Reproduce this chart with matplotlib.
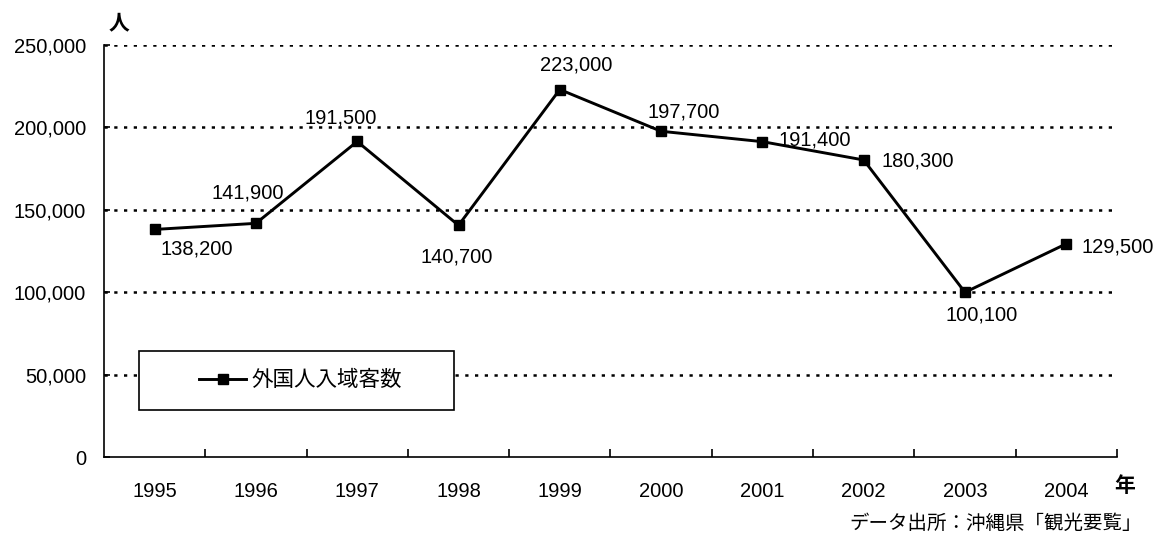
import matplotlib
matplotlib.use("Agg")
from matplotlib import pyplot as plt
from matplotlib.patches import Rectangle
from matplotlib.ticker import FuncFormatter, FixedLocator

plt.rcParams['font.family'] = ['Liberation Sans', 'Noto Sans CJK JP', 'DejaVu Sans']

# データ
years = ['1995', '1996', '1997', '1998', '1999', '2000', '2001', '2002', '2003', '2004']
visitors = [138200, 141900, 191500, 140700, 223000, 197700, 191400, 180300, 100100, 129500]
series_name = '外国人入域客数'
source_text = 'データ出所：沖縄県「観光要覧」'

# ラベル位置 (offset points)
label_offsets = [(30, -14), (-6, 22), (-12, 17), (-1, -23), (12, 18),
                 (16, 14), (38, 1), (39, -1), (12, -16), (37, -2)]

fig = plt.figure(figsize=(11.59, 5.36), dpi=100)
ax = fig.add_axes([0.0897, 0.1465, 0.874, 0.7696])

x = list(range(len(years)))
ax.plot(x, visitors, color='black', linewidth=2.1, marker='s', markersize=7,
        label=series_name, zorder=3)

for xi, v, off in zip(x, visitors, label_offsets):
    ax.annotate(f'{v:,}', (xi, v), xytext=off, textcoords='offset points',
                ha='center', va='center', fontsize=14.5, zorder=4)

ax.set_xlim(-0.5, len(years) - 0.5)
ax.set_ylim(0, 250000)
ax.set_yticks([0, 50000, 100000, 150000, 200000, 250000])
ax.yaxis.set_major_formatter(FuncFormatter(lambda v, p: f'{int(v):,}'))
ax.tick_params(axis='y', direction='in', length=4, width=1.2, labelsize=14.5, pad=13)

ax.set_xticks(x)
ax.set_xticklabels(years, fontsize=14.5)
ax.tick_params(axis='x', which='major', length=0, pad=18)
ax.xaxis.set_minor_locator(FixedLocator([i + 0.5 for i in range(len(years))]))
ax.tick_params(axis='x', which='minor', direction='in', length=6, width=1.2)

for g in [50000, 100000, 150000, 200000, 250000]:
    ax.plot([-0.5, 9.45], [g, g], color='black', linewidth=1.8,
            linestyle=(0, (1.3, 2.6)), zorder=1)

for s in ['top', 'right']:
    ax.spines[s].set_visible(False)
ax.spines['left'].set_linewidth(1.2)
ax.spines['bottom'].set_linewidth(1.2)

# 凡例の枠
box = Rectangle((0.0346, 0.114), 0.311, 0.1436, transform=ax.transAxes,
                facecolor='white', edgecolor='black', linewidth=1.2, zorder=5)
ax.add_patch(box)
leg = ax.legend(loc='center', bbox_to_anchor=(0.0346 + 0.311 / 2 + 0.004, 0.114 + 0.1436 / 2),
                fontsize=15.5, frameon=False, handlelength=2.2, handletextpad=0.25,
                borderaxespad=0)
leg.set_zorder(6)

fig.text(0.1027, 0.955, '人', fontsize=15, fontweight='bold', ha='center', va='center')
fig.text(0.970, 0.0925, '年', fontsize=15, fontweight='bold', ha='center', va='center')
fig.text(0.9853, 0.0235, source_text, fontsize=14, ha='right', va='center')

plt.savefig('out.png', dpi=100)
